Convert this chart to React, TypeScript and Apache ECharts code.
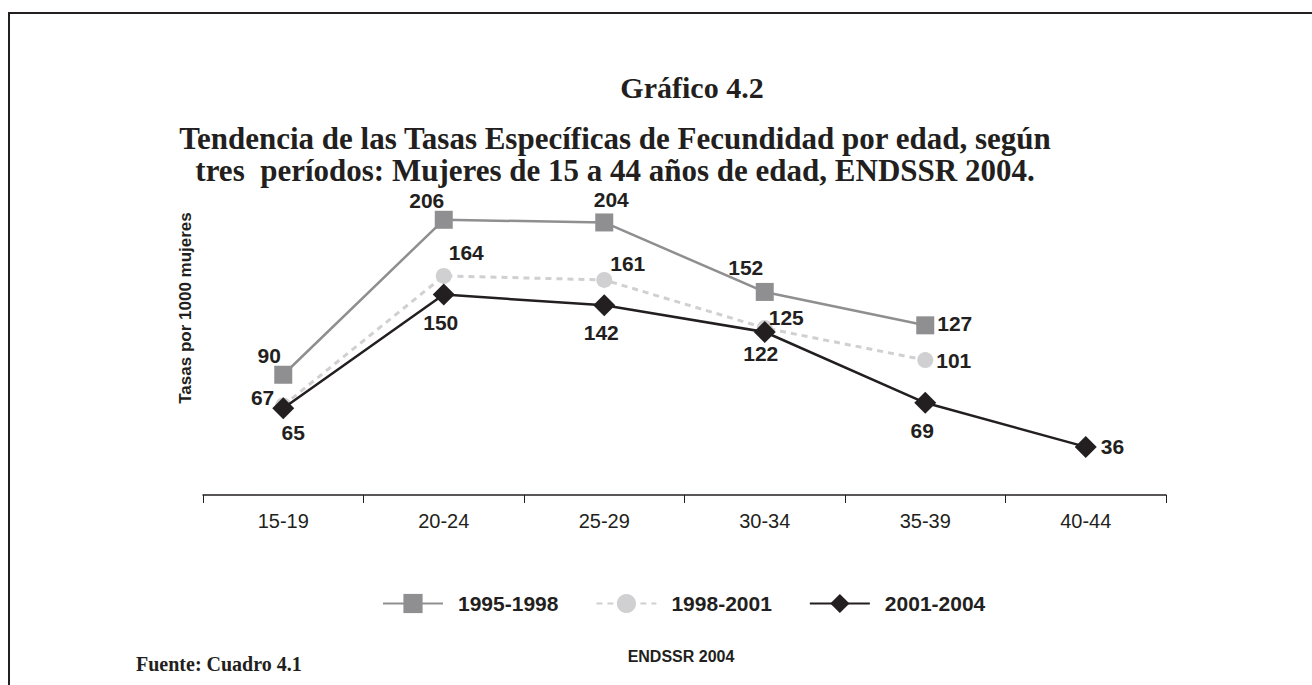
import React, { useEffect, useRef } from "react";
import * as echarts from "echarts";

const categories = ["15-19", "20-24", "25-29", "30-34", "35-39", "40-44"];
const s1995 = [90, 206, 204, 152, 127, null];
const s1998 = [67, 164, 161, 125, 101, null];
const s2001 = [65, 150, 142, 122, 69, 36];
const seriesNames = ["1995-1998", "1998-2001", "2001-2004"];

const INK = "#231f20";
const SANS = "Liberation Sans, Arial, sans-serif";
const SERIF = "Liberation Serif, Times New Roman, serif";
const labelBase = { show: true, color: INK, fontFamily: SANS, fontWeight: "bold", fontSize: 21 };

type LP = { position: string; offset: number[] };
const pos1995: LP[] = [
  { position: "top", offset: [-14, 5] },
  { position: "top", offset: [-17, 5] },
  { position: "top", offset: [7, 2] },
  { position: "top", offset: [-19, 0] },
  { position: "right", offset: [-2, -2] },
];
const pos1998: LP[] = [
  { position: "left", offset: [4, -8] },
  { position: "right", offset: [-8, -23] },
  { position: "right", offset: [-7, -16] },
  { position: "right", offset: [-9, -11] },
  { position: "right", offset: [-2, 0] },
];
const pos2001: LP[] = [
  { position: "bottom", offset: [10, -2] },
  { position: "bottom", offset: [-3, 1] },
  { position: "bottom", offset: [-3, 1] },
  { position: "bottom", offset: [-4, -5] },
  { position: "bottom", offset: [-3, 1] },
  { position: "right", offset: [-1, 0] },
];

function mk(values: (number | null)[], p: LP[]) {
  return values.map((v, i) =>
    v === null ? null : { value: v, label: { ...labelBase, position: p[i].position, offset: p[i].offset } }
  );
}

export default function App() {
  const ref = useRef<HTMLDivElement>(null);
  useEffect(() => {
    const chart = echarts.init(ref.current!, undefined, { renderer: "svg" });
    chart.setOption({
      animation: false,
      backgroundColor: "#ffffff",
      title: [
        {
          text: "Gráfico 4.2",
          left: 687,
          top: 67,
          textAlign: "center",
          textStyle: { fontFamily: SERIF, fontWeight: "bold", fontSize: 30, color: INK },
        },
        {
          text: "Tendencia de las Tasas Específicas de Fecundidad por edad, según\ntres  períodos: Mujeres de 15 a 44 años de edad, ENDSSR 2004.",
          left: 610,
          top: 117,
          textAlign: "center",
          textStyle: { fontFamily: SERIF, fontWeight: "bold", fontSize: 31, lineHeight: 32, color: INK },
        },
        {
          text: "ENDSSR 2004",
          left: 676,
          top: 643,
          textAlign: "center",
          textStyle: { fontFamily: SANS, fontWeight: "bold", fontSize: 16, color: INK },
        },
        {
          text: "Fuente: Cuadro 4.1",
          left: 131,
          top: 649,
          textStyle: { fontFamily: SERIF, fontWeight: "bold", fontSize: 20, color: INK },
        },
      ],
      graphic: [
        { type: "line", shape: { x1: 8, y1: 13, x2: 1312, y2: 13 }, style: { stroke: INK, lineWidth: 2 } },
        { type: "line", shape: { x1: 9, y1: 12, x2: 9, y2: 685 }, style: { stroke: INK, lineWidth: 2 } },
        {
          type: "text",
          x: 185,
          y: 308,
          rotation: Math.PI / 2,
          style: {
            text: "Tasas por 1000 mujeres",
            fill: INK,
            font: "bold 17px Liberation Sans, Arial, sans-serif",
            align: "center",
            verticalAlign: "middle",
          },
        },
      ],
      legend: {
        left: 377,
        top: 588,
        itemWidth: 60,
        itemHeight: 24,
        itemGap: 37,
        data: seriesNames,
        textStyle: { fontFamily: SANS, fontWeight: "bold", fontSize: 21, color: INK, padding: [0, 0, 0, 10] },
      },
      grid: { left: 203, right: 146, top: 161, bottom: 190 },
      xAxis: {
        type: "category",
        data: categories,
        boundaryGap: true,
        axisLine: { lineStyle: { color: INK, width: 1.5 } },
        axisTick: { show: true, length: 8, inside: false, interval: 0, lineStyle: { color: INK } },
        axisLabel: { color: INK, fontFamily: SANS, fontSize: 20, margin: 16 },
      },
      yAxis: {
        type: "value",
        min: 0,
        max: 250,
        axisLine: { show: false },
        axisTick: { show: false },
        axisLabel: { show: false },
        splitLine: { show: false },
      },
      series: [
        {
          name: seriesNames[0],
          type: "line",
          data: mk(s1995, pos1995),
          symbol: "rect",
          symbolSize: 18,
          itemStyle: { color: "#8f8f91" },
          lineStyle: { color: "#8f8f91", width: 2.5 },
          z: 2,
        },
        {
          name: seriesNames[1],
          type: "line",
          data: mk(s1998, pos1998),
          symbol: "circle",
          symbolSize: 16,
          itemStyle: { color: "#d0d0d2" },
          lineStyle: { color: "#d0d0d2", width: 3, type: [6, 5] },
          z: 3,
        },
        {
          name: seriesNames[2],
          type: "line",
          data: mk(s2001, pos2001),
          symbol: "diamond",
          symbolSize: 22,
          itemStyle: { color: INK },
          lineStyle: { color: INK, width: 2.5 },
          z: 4,
        },
      ],
    });
    return () => chart.dispose();
  }, []);
  return <div ref={ref} style={{ position: "fixed", left: 0, top: 0, width: 1312, height: 685 }} />;
}
